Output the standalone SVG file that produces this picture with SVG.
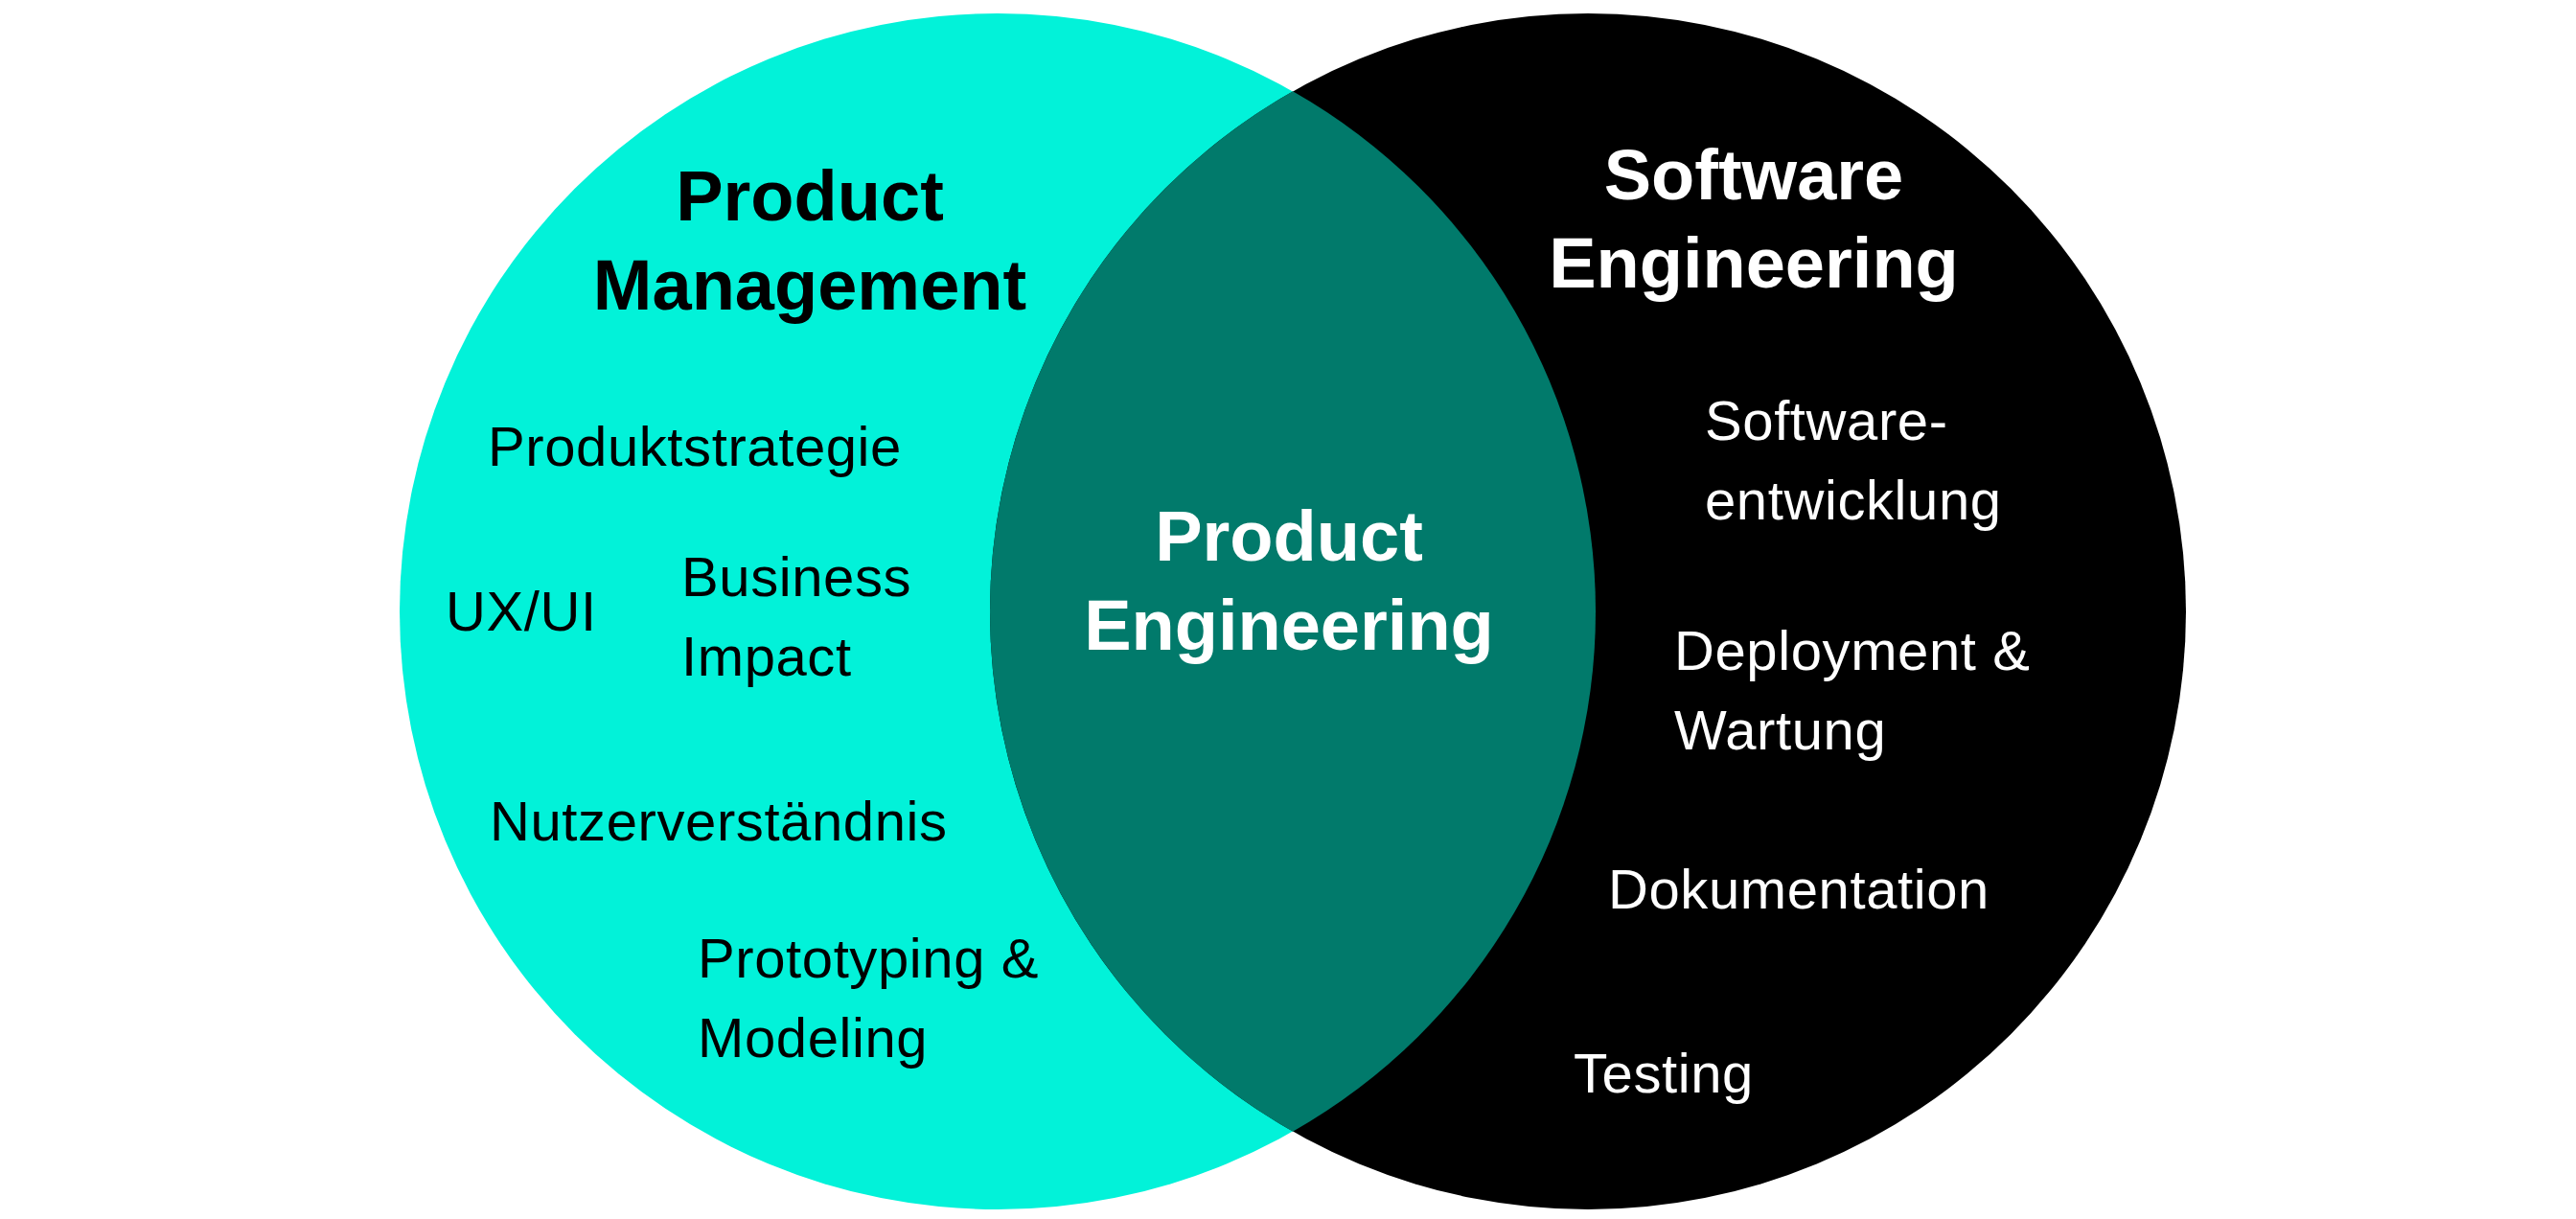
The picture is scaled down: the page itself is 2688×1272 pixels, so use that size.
<svg xmlns="http://www.w3.org/2000/svg" width="2688" height="1272" viewBox="0 0 2688 1272">
<style>
.t{font-family:"Liberation Sans",Arial,Helvetica,sans-serif;font-size:58px;letter-spacing:0.6px}
.h{font-family:"Liberation Sans",Arial,Helvetica,sans-serif;font-size:74px;font-weight:bold;text-anchor:middle}
.dk{fill:#000}
.lt{fill:#fff}
</style>
<rect width="2688" height="1272" fill="#fff"/>
<g id="product-management">
<circle cx="1041" cy="638" r="624" fill="#02F2D9"/>
</g>
<g id="software-engineering">
<circle cx="1657" cy="638" r="624" fill="#000"/>
</g>
<g id="product-engineering">
<path d="M1349,95.31 A624,624 0 0,1 1349,1180.69 A624,624 0 0,1 1349,95.31 Z" fill="#017A6B"/>
</g>
<g id="connectors"></g>
<g id="labels-left">
<text class="h dk" x="845" y="230">Product</text>
<text class="h dk" x="845" y="323">Management</text>
<text class="t dk" x="509" y="486">Produktstrategie</text>
<text class="t dk" x="465" y="658">UX/UI</text>
<text class="t dk" x="711" y="622">Business</text>
<text class="t dk" x="711" y="705">Impact</text>
<text class="t dk" x="511" y="877">Nutzerverständnis</text>
<text class="t dk" x="728" y="1020">Prototyping &amp;</text>
<text class="t dk" x="728" y="1103">Modeling</text>
</g>
<g id="labels-center">
<text class="h lt" x="1345" y="585">Product</text>
<text class="h lt" x="1345" y="678">Engineering</text>
</g>
<g id="labels-right">
<text class="h lt" x="1830" y="208">Software</text>
<text class="h lt" x="1830" y="300">Engineering</text>
<text class="t lt" x="1779" y="459">Software-</text>
<text class="t lt" x="1779" y="542">entwicklung</text>
<text class="t lt" x="1747" y="699">Deployment &amp;</text>
<text class="t lt" x="1747" y="782">Wartung</text>
<text class="t lt" x="1678" y="948">Dokumentation</text>
<text class="t lt" x="1642" y="1140">Testing</text>
</g>
</svg>
